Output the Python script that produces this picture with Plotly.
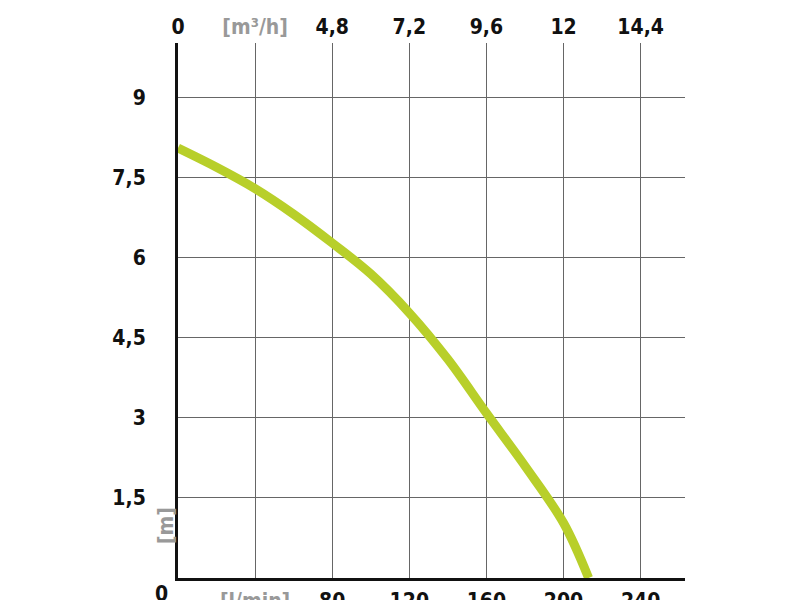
import plotly.graph_objects as go

flow = [0, 20, 40, 60, 80, 100, 120, 140, 160, 180, 200, 213]
head = [8.06, 7.7, 7.3, 6.82, 6.28, 5.7, 4.97, 4.1, 3.09, 2.1, 1.03, 0]
x_ticks = [40, 80, 120, 160, 200, 240]
x_labels = ["<span style='color:#999'>[l/min]</span>", "80", "120", "160", "200", "240"]
top_ticks = [0, 40, 80, 120, 160, 200, 240]
top_labels = ["0", "<span style='color:#999'>[m³/h]</span>", "4,8", "7,2", "9,6", "12", "14,4"]
y_ticks = [1.5, 3, 4.5, 6, 7.5, 9]
y_labels = ["1,5", "3", "4,5", "6", "7,5", "9"]

F = dict(family="DejaVu Sans Condensed", size=21, color="#111", weight="bold")
fig = go.Figure()
fig.add_trace(go.Scatter(x=flow, y=head, mode="lines", line=dict(color="#b8cf2a", width=9, shape="spline"), cliponaxis=False))
fig.add_trace(go.Scatter(x=[0], y=[0], xaxis="x2", mode="markers", marker=dict(opacity=0), showlegend=False))
fig.update_layout(
    width=800, height=600, showlegend=False, plot_bgcolor="white", paper_bgcolor="white",
    margin=dict(l=170, r=123, t=35, b=30, autoexpand=False), font=F,
    xaxis=dict(range=[0, 263], tickvals=x_ticks, ticktext=x_labels, showgrid=True, gridcolor="#666", gridwidth=1,
               showline=True, linecolor="#111", linewidth=3, ticks="", zeroline=False, tickfont=F, automargin=False,
               ticklabelstandoff=2),
    xaxis2=dict(range=[0, 263], overlaying="x", side="top", tickvals=top_ticks, ticktext=top_labels, automargin=False,
                showgrid=False, ticks="", showline=False, zeroline=False, tickfont=F, ticklabelstandoff=4),
    yaxis=dict(range=[0, 10.03], tickvals=y_ticks, ticktext=y_labels, showgrid=True, gridcolor="#666", gridwidth=1,
               showline=True, linecolor="#111", linewidth=3, ticks="", zeroline=False, tickfont=F, ticklabelstandoff=25,
               automargin=False),
    annotations=[
        dict(text="0", xref="paper", yref="paper", x=-0.05, y=0, yshift=-16, yanchor="middle", showarrow=False, font=F),
        dict(text="[m]", xref="paper", yref="paper", x=-0.05, y=0.06, textangle=-90, showarrow=False,
             font=dict(family=F["family"], size=21, color="#999", weight="bold")),
    ],
)
fig.write_html("out.html")
